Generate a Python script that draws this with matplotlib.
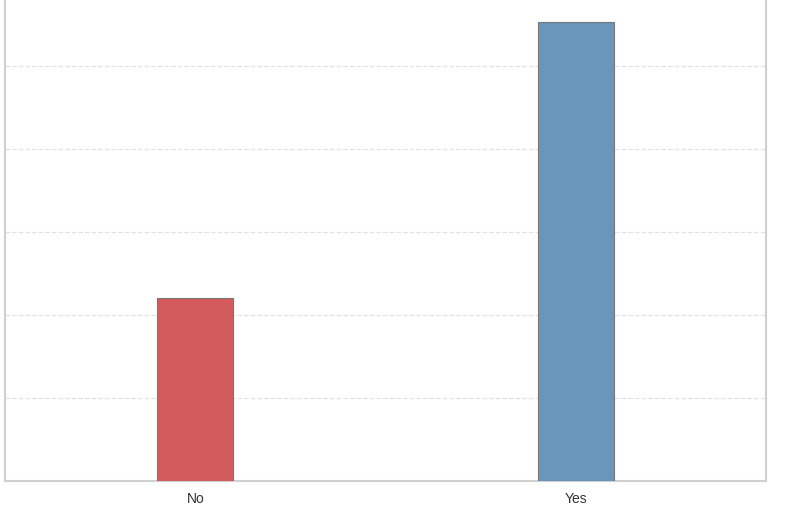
import matplotlib.pyplot as plt

# 数据
categories = ["No", "Yes"]
values = [2.2, 5.53]
bar_colors = ["#d45b5b", "#6a96bb"]

plt.rcParams['font.family'] = ['Liberation Sans', 'DejaVu Sans']

fig = plt.figure(figsize=(8.01, 5.07), dpi=100)
ax = fig.add_axes([5 / 801, 26 / 507, 761 / 801, 481 / 507])

x = range(len(categories))
ax.bar(x, values, width=0.2, color=bar_colors, edgecolor="#777777", linewidth=0.8, zorder=3)

ax.set_xlim(-0.5, 1.5)
ax.set_ylim(0, 481 / 83)
ax.set_xticks(list(x))
ax.set_xticklabels(categories, fontsize=10, color="#333333")
ax.set_yticks([1, 2, 3, 4, 5])
ax.set_yticklabels([])
ax.tick_params(axis="both", length=0, pad=8)

# 虚线网格
ax.yaxis.grid(True, linestyle="--", color="#e2e2e2", linewidth=0.9, zorder=0)
ax.xaxis.grid(False)

for side in ["left", "right", "bottom"]:
    ax.spines[side].set_color("#d0d0d0")
    ax.spines[side].set_linewidth(1.5)
ax.spines["top"].set_visible(False)

fig.savefig("out.png", dpi=100)
